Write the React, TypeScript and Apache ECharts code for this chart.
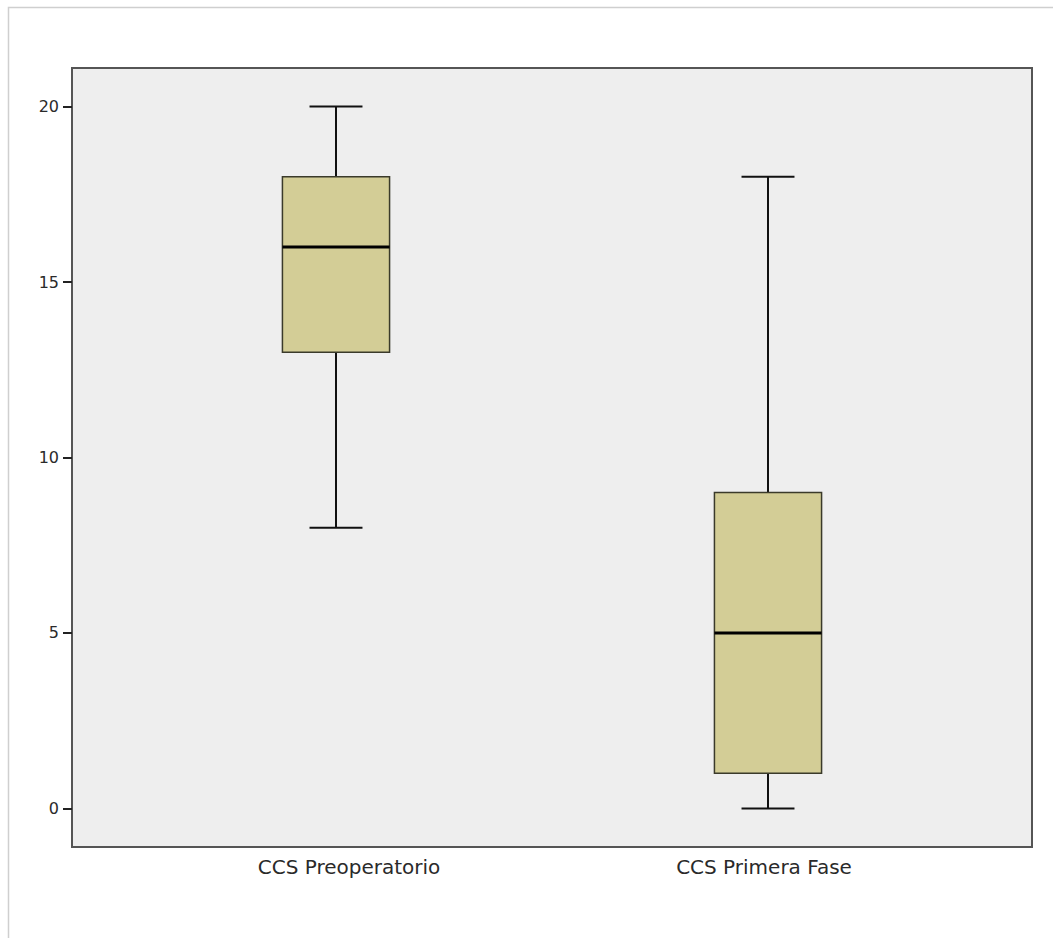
import React, { useEffect, useRef } from "react";
import * as echarts from "echarts";

// Groups and their five-number summaries
const categories = ["CCS Preoperatorio", "CCS Primera Fase"];
const positions = [1, 2];
const mins = [8, 0];
const q1s = [13, 1];
const medians = [16, 5];
const q3s = [18, 9];
const maxs = [20, 18];
const yTicks = [0, 5, 10, 15, 20];

const BOX_HALF = 0.124; // half box width, in x units
const CAP_HALF = 0.0613; // half whisker-cap width, in x units

export default function App() {
  const ref = useRef<HTMLDivElement>(null);

  useEffect(() => {
    if (!ref.current) return;
    const chart = echarts.init(ref.current, undefined, { renderer: "svg" });

    const data = positions.map((p, i) => [p, mins[i], q1s[i], medians[i], q3s[i], maxs[i]]);
    const labelStyle = { fontFamily: "DejaVu Sans", fontSize: 20, color: "#2a2a2a" };

    chart.setOption({
      animation: false,
      backgroundColor: "#ffffff",
      graphic: [
        {
          type: "polyline",
          silent: true,
          shape: { points: [[8.5, 938], [8.5, 7.5], [1053, 7.5]] },
          style: { stroke: "#cfcfcf", lineWidth: 1.5, fill: "none" },
        },
      ],
      grid: {
        left: 72,
        top: 68,
        right: 21,
        bottom: 91,
        show: true,
        backgroundColor: "#eeeeee",
        borderColor: "#555555",
        borderWidth: 2,
        containLabel: false,
      },
      xAxis: {
        type: "value",
        min: 0.3889,
        max: 2.6111,
        splitLine: { show: false },
        axisLine: { show: false },
        axisTick: { show: false },
        axisLabel: {
          customValues: positions,
          formatter: (v: number) => {
            const i = positions.indexOf(Math.round(v));
            if (i < 0) return "";
            return `{${i === 0 ? "a" : "b"}|${categories[i]}}`;
          },
          rich: {
            a: { ...labelStyle, padding: [0, 0, 0, 26] },
            b: { ...labelStyle, padding: [0, 8, 0, 0] },
          },
          ...labelStyle,
          margin: 10,
        },
      },
      yAxis: {
        type: "value",
        min: -1.1,
        max: 21.1,
        splitLine: { show: false },
        axisLine: { show: false },
        axisTick: {
          show: true,
          customValues: yTicks,
          length: 9,
          lineStyle: { color: "#222222", width: 2 },
        },
        axisLabel: {
          customValues: yTicks,
          fontFamily: "DejaVu Sans",
          fontSize: 16,
          color: "#2a2a2a",
          margin: 13,
        },
      },
      series: [
        {
          type: "custom",
          data,
          renderItem: (params: any, api: any) => {
            const x = api.value(0);
            const vMin = api.value(1);
            const vQ1 = api.value(2);
            const vMed = api.value(3);
            const vQ3 = api.value(4);
            const vMax = api.value(5);
            const c = api.coord([x, vMed]);
            const left = api.coord([x - BOX_HALF, vMed])[0];
            const right = api.coord([x + BOX_HALF, vMed])[0];
            const capL = api.coord([x - CAP_HALF, vMed])[0];
            const capR = api.coord([x + CAP_HALF, vMed])[0];
            const yMin = api.coord([x, vMin])[1];
            const yQ1 = api.coord([x, vQ1])[1];
            const yMed = c[1];
            const yQ3 = api.coord([x, vQ3])[1];
            const yMax = api.coord([x, vMax])[1];
            const cx = c[0];
            const whisker = { stroke: "#111111", lineWidth: 2 };
            return {
              type: "group",
              children: [
                { type: "line", shape: { x1: cx, y1: yMax, x2: cx, y2: yQ3 }, style: whisker },
                { type: "line", shape: { x1: cx, y1: yQ1, x2: cx, y2: yMin }, style: whisker },
                { type: "line", shape: { x1: capL, y1: yMax, x2: capR, y2: yMax }, style: whisker },
                { type: "line", shape: { x1: capL, y1: yMin, x2: capR, y2: yMin }, style: whisker },
                {
                  type: "rect",
                  shape: { x: left, y: yQ3, width: right - left, height: yQ1 - yQ3 },
                  style: { fill: "#d3cd96", stroke: "#3a3a2a", lineWidth: 1.5 },
                },
                {
                  type: "line",
                  shape: { x1: left, y1: yMed, x2: right, y2: yMed },
                  style: { stroke: "#000000", lineWidth: 3 },
                },
              ],
            };
          },
        },
      ],
    });

    return () => chart.dispose();
  }, []);

  return (
    <div
      ref={ref}
      style={{ position: "absolute", left: 0, top: 0, width: 1053, height: 938 }}
    />
  );
}
